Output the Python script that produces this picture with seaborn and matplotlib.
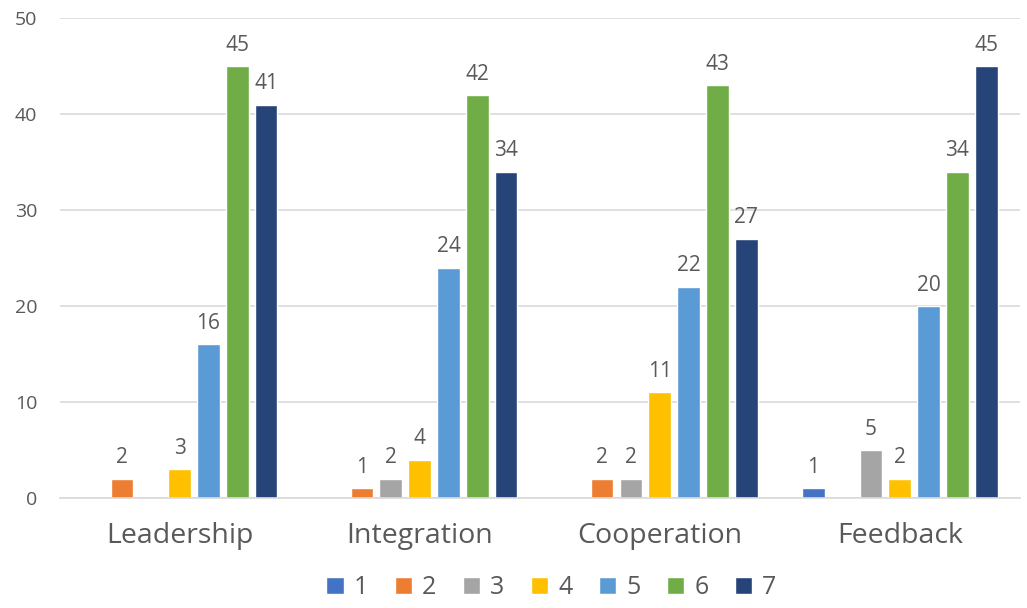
import matplotlib
matplotlib.use("Agg")
import matplotlib.pyplot as plt
import seaborn as sns
import pandas as pd

categories = ["Leadership", "Integration", "Cooperation", "Feedback"]
series = ["1", "2", "3", "4", "5", "6", "7"]
values = {
    "1": [0, 0, 0, 1],
    "2": [2, 1, 2, 0],
    "3": [0, 2, 2, 5],
    "4": [3, 4, 11, 2],
    "5": [16, 24, 22, 20],
    "6": [45, 42, 43, 34],
    "7": [41, 34, 27, 45],
}
colors = ["#4472C4", "#ED7D31", "#A5A5A5", "#FFC000", "#5B9BD5", "#70AD47", "#264478"]

rows = []
for s in series:
    for c, v in zip(categories, values[s]):
        rows.append({"category": c, "series": s, "value": v})
df = pd.DataFrame(rows)

sns.set_theme(style="white")
plt.rcParams["font.family"] = ["Open Sans", "DejaVu Sans"]
text_color = "#595959"

fig = plt.figure(figsize=(10.27, 6.08), dpi=100)
ax = fig.add_axes([0.058, 0.181, 0.935, 0.789])

sns.barplot(data=df, x="category", y="value", hue="series", order=categories,
            hue_order=series, palette=dict(zip(series, colors)), width=0.84, gap=0.21,
            saturation=1, ax=ax, errorbar=None)

for cont in ax.containers:
    labels = [f"{v:.0f}" if v > 0 else "" for v in cont.datavalues]
    ax.bar_label(cont, labels=labels, padding=7.5, fontsize=15, color=text_color)

ax.set_ylim(0, 50)
ax.set_xlim(-0.5, 3.5)
ax.set_yticks([0, 10, 20, 30, 40, 50])
ax.yaxis.grid(True, color="#d9d9d9", linewidth=1.2)
ax.set_axisbelow(True)
for sp in ["top", "right", "left"]:
    ax.spines[sp].set_visible(False)
ax.spines["bottom"].set_color("#d9d9d9")
ax.spines["bottom"].set_linewidth(1.2)
ax.set_xlabel("")
ax.set_ylabel("")
ax.tick_params(axis="y", length=0, labelsize=14, labelcolor=text_color, pad=16)
ax.tick_params(axis="x", length=0, labelsize=20.5, labelcolor=text_color, pad=17)

sns.move_legend(ax, "lower center", bbox_to_anchor=(0.537, -0.012), bbox_transform=fig.transFigure,
                ncol=7, frameon=False, title=None, fontsize=18, handlelength=0.7,
                handleheight=0.7, handletextpad=0.4, columnspacing=1.05, labelcolor=text_color,
                borderaxespad=0.2)

fig.savefig("out.png", dpi=100)
